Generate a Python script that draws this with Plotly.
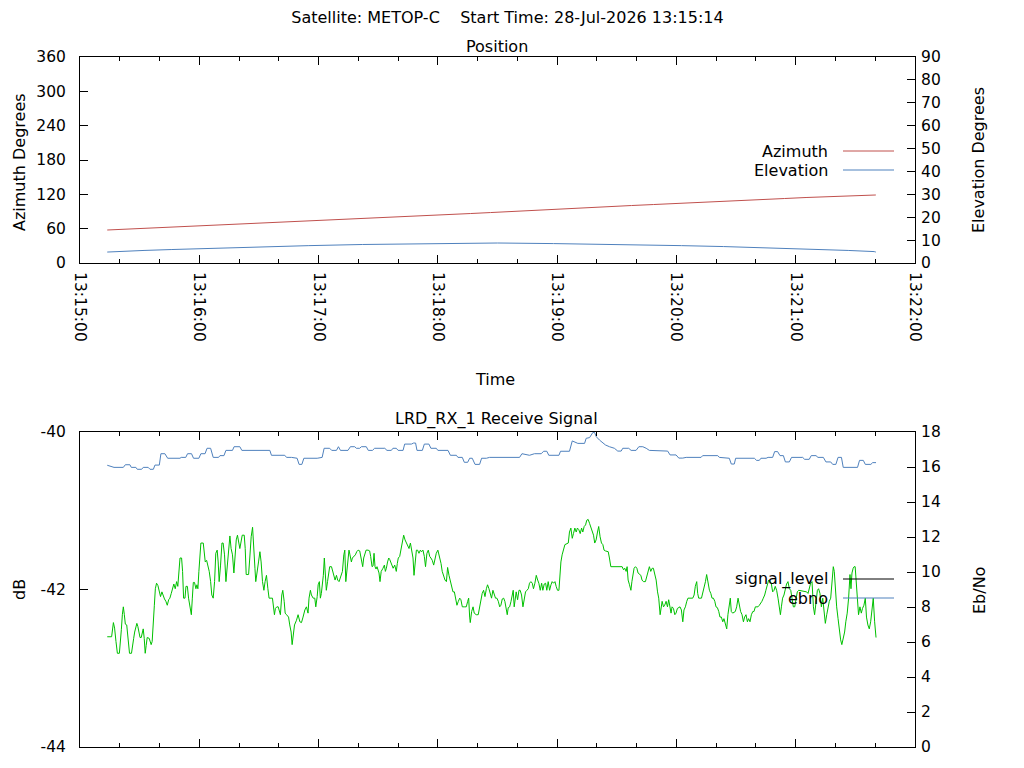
import pandas as pd
import plotly.graph_objects as go

# pass data, time given as seconds after 13:15:00
start = pd.Timestamp("2026-07-28 13:15:00")

az_sec = [13.7, 18.9, 31.2, 44.2, 55.3, 67.3, 78.9, 89.9, 102.0, 112.1, 123.1, 134.2, 144.2,
          155.3, 165.3, 175.4, 185.4, 196.5, 206.5, 216.1, 226.1, 236.2, 246.2, 256.3, 266.3,
          277.4, 288.4, 298.5, 309.5, 320.6, 331.7, 343.7, 354.3, 365.2, 378.6, 390.6, 400.3]
azimuth = [57.7, 58.5, 60.3, 62.0, 63.8, 65.5, 67.3, 69.0, 70.7, 72.5, 74.2, 76.0, 77.7,
           79.5, 81.2, 83.0, 84.7, 86.5, 88.2, 90.0, 91.7, 93.5, 95.2, 97.0, 98.7,
           100.5, 102.2, 104.0, 105.7, 107.5, 109.2, 111.0, 112.7, 114.5, 116.2, 118.0, 118.9]

el_sec = [13.7, 17.9, 32.2, 46.2, 61.3, 77.9, 96.0, 115.1, 142.2, 183.4, 210.0, 238.2,
          278.4, 302.5, 323.6, 340.7, 356.3, 371.4, 386.4, 399.5, 400.3]
elevation = [4.8, 5.0, 5.5, 5.9, 6.3, 6.8, 7.2, 7.6, 8.1, 8.5, 8.75, 8.5,
             8.1, 7.6, 7.2, 6.8, 6.3, 5.9, 5.5, 5.0, 4.8]

sig_sec = [
    13.7, 15.9, 16.8, 17.4, 18.1, 18.8, 19.8, 20.3, 20.8, 21.3, 21.8, 22.3, 22.8, 23.5, 23.9,
    24.4, 24.9, 25.9, 26.5, 27.0, 27.5, 28.1, 28.6, 29.1, 29.7, 30.2, 30.8, 31.3, 31.8, 32.3,
    32.8, 33.3, 33.8, 34.8, 35.3, 35.8, 36.3, 36.9, 37.4, 37.9, 38.5, 39.2, 39.9, 40.5, 41.2,
    41.9, 42.5, 43.2, 43.9, 44.6, 45.2, 45.9, 46.6, 47.2, 47.9, 48.6, 49.2, 49.8, 50.3, 51.1,
    51.6, 52.1, 52.8, 53.3, 54.0, 54.6, 55.3, 56.0, 56.5, 57.0, 57.6, 58.3, 58.8, 59.3, 59.8,
    60.3, 60.8, 62.0, 62.5, 63.0, 63.7, 64.3, 65.0, 65.7, 66.3, 67.0, 67.7, 68.3, 69.0, 69.5,
    70.0, 70.7, 71.4, 72.0, 72.7, 73.4, 74.0, 74.7, 75.4, 76.0, 76.7, 77.4, 77.9, 78.6, 79.2,
    79.7, 80.4, 80.9, 81.6, 82.6, 83.1, 83.6, 84.8, 85.4, 86.1, 86.8, 87.3, 88.0, 88.4, 89.1,
    89.8, 90.5, 91.1, 91.8, 92.5, 93.1, 93.8, 94.5, 95.1, 96.8, 97.3, 97.8, 98.3, 99.0, 99.7,
    100.3, 100.8, 101.5, 102.0, 102.7, 103.2, 103.9, 104.9, 105.5, 106.2, 106.7, 107.2,
    107.9, 108.9, 109.7, 110.6, 111.4, 112.2, 113.1, 113.9, 114.7, 115.2, 115.9, 116.4, 117.3,
    118.1, 118.6, 119.3, 119.8, 120.4, 120.9, 121.4, 121.9, 122.4, 122.9, 123.4, 123.9, 124.5,
    125.1, 125.6, 126.5, 127.0, 127.6, 128.3, 129.0, 129.6, 130.3, 131.0, 131.5, 132.0, 132.7,
    133.2, 133.7, 134.3, 134.8, 135.3, 135.8, 136.5, 137.0, 137.9, 138.5, 139.2, 139.9, 140.7,
    141.2, 141.7, 142.2, 142.7, 143.2, 143.9, 144.9, 145.7, 146.2, 146.9, 147.4, 147.9, 148.4,
    148.9, 149.4, 149.9, 150.4, 150.9, 151.5, 152.4, 153.1, 153.6, 154.1, 154.7, 155.3, 155.8,
    156.6, 157.5, 158.3, 159.1, 159.6, 160.1, 160.8, 161.5, 162.1, 162.8, 163.5, 164.2, 164.8,
    165.5, 166.2, 166.8, 167.5, 168.0, 168.5, 169.2, 169.8, 170.5, 171.2, 171.8, 172.5, 173.2,
    173.8, 174.5, 175.2, 175.9, 176.5, 177.2, 177.9, 178.6, 179.2, 180.0, 180.9, 181.6, 182.2,
    182.9, 183.6, 184.3, 184.9, 185.6, 186.3, 186.9, 187.6, 188.3, 188.9, 189.6, 190.3, 191.0,
    191.6, 192.3, 193.3, 194.3, 195.0, 195.5, 196.0, 196.3, 197.0, 197.7, 198.3, 199.3, 200.3,
    201.0, 201.7, 202.3, 203.0, 203.7, 204.4, 205.0, 205.7,
    206.4, 207.0, 207.7, 208.4, 209.0, 209.7, 210.4, 211.1, 211.7, 212.4, 213.1, 213.7, 214.4,
    214.9, 215.4, 216.1, 216.8, 217.4, 217.9, 218.4, 218.9, 219.4, 220.1, 220.8, 221.4, 222.1,
    222.8, 223.5, 224.1, 224.8, 225.5, 226.1, 226.8, 227.5, 228.1, 228.8, 229.5, 230.2, 230.8,
    231.5, 232.2, 232.8, 233.5, 234.2, 234.8, 235.5, 236.2, 236.9, 237.5, 238.2, 238.9, 239.5,
    240.2, 240.9, 241.4, 241.9, 242.5, 243.2, 243.9, 245.6, 246.2, 246.9, 247.6, 248.2, 248.9,
    249.6, 250.2, 250.9, 251.6, 252.3, 252.9, 253.6, 254.3, 254.9, 255.6, 256.3, 256.9, 257.6,
    258.3, 258.9, 259.6, 260.3, 260.9, 261.6, 262.3, 263.0, 263.6, 264.3, 265.7, 266.3, 267.0,
    272.7, 273.4, 274.0, 274.7, 275.2, 275.7, 276.4, 277.1, 277.6, 278.1, 278.7, 279.4, 280.1,
    280.7, 282.1, 282.7, 283.4, 284.4, 285.1, 285.8, 286.4, 287.1, 287.8, 288.4, 289.1, 289.8,
    290.5, 291.1, 291.8, 292.3, 292.8, 293.5, 294.1, 294.8, 295.5, 296.1, 296.6, 297.3, 297.8,
    298.5, 299.2, 299.8, 300.5, 301.2,
    301.8, 302.5, 303.2, 303.8, 304.5, 305.2, 305.8, 308.2, 308.9, 309.5, 310.2, 310.7, 311.2,
    312.6, 313.2, 313.9, 314.6, 315.2, 315.9, 316.6, 317.3, 317.9, 318.6, 319.3, 319.9, 320.6,
    321.3, 321.9, 322.6, 323.3, 323.9, 324.6, 325.3, 325.9, 326.6, 327.1, 327.6, 328.3, 329.6,
    330.3, 331.0, 331.7, 332.3, 333.0, 333.7, 334.3, 335.0, 335.7, 336.3, 337.0, 337.7, 338.4,
    339.0, 339.7, 341.0, 341.7, 342.4, 343.0, 343.7, 344.4, 345.0, 345.7, 346.4, 347.1, 347.7,
    348.4, 349.1, 349.7, 350.4, 351.1, 351.8, 352.3, 352.8, 353.4, 354.1, 354.8, 355.4, 356.1,
    356.8, 357.5, 358.1, 358.8, 359.5, 360.1, 360.8, 361.5, 365.5, 366.2, 366.9, 367.5, 368.2,
    368.9, 369.5, 370.2, 370.9, 371.5, 372.2, 372.9, 373.6, 374.2, 374.9, 375.6, 376.2, 376.9,
    377.6, 378.2, 378.9, 379.4, 379.9, 380.6, 381.3, 381.9, 382.6, 383.2, 383.9, 384.6, 385.2,
    385.9, 386.6, 387.3, 387.8, 388.3, 388.9, 389.4, 389.9, 390.4, 391.0, 391.6, 392.3, 393.0,
    393.6, 394.3, 395.0, 395.6, 396.3, 397.0, 397.7, 398.3, 399.0, 399.7, 400.4]
signal_level = [
    -42.60, -42.60, -42.42, -42.49, -42.66, -42.81, -42.81, -42.70, -42.51, -42.32, -42.22, -42.32, -42.44, -42.45, -42.58,
    -42.68, -42.81, -42.81, -42.73, -42.62, -42.54, -42.47, -42.43, -42.47, -42.56, -42.61, -42.61, -42.54, -42.50, -42.62,
    -42.81, -42.71, -42.61, -42.62, -42.68, -42.70, -42.66, -42.47, -42.20, -41.99, -41.92, -41.95, -42.03, -42.09, -42.03,
    -42.09, -42.12, -42.15, -42.20, -42.13, -42.11, -42.05, -41.99, -41.93, -41.99, -41.90, -41.96, -41.71, -41.60, -41.60,
    -41.77, -42.11, -42.11, -41.96, -41.96, -42.11, -42.24, -42.32, -42.11, -41.91, -41.91, -41.99, -41.94, -41.99, -41.77,
    -41.52, -41.41, -41.41, -41.50, -41.65, -41.63, -41.69, -41.77, -41.90, -42.07, -42.11, -41.90, -41.54, -41.50, -41.65,
    -41.90, -41.69, -41.41, -41.41, -41.56, -41.90, -41.73, -41.50, -41.32, -41.48, -41.56, -41.79, -41.56, -41.37, -41.31,
    -41.37, -41.48, -41.41, -41.31, -41.31, -41.48, -41.81, -41.81, -41.60, -41.33, -41.21, -41.52, -41.73, -41.90, -41.73,
    -41.65, -41.52, -41.65, -41.90, -42.01, -41.90, -41.82, -41.99, -42.11, -42.11, -42.22, -42.32, -42.24, -42.22, -42.22,
    -42.27, -42.32, -42.07, -42.01, -42.15, -42.30, -42.32, -42.35, -42.45, -42.54, -42.70, -42.56,
    -42.45, -42.39, -42.32, -42.41, -42.42, -42.35, -42.26, -42.22, -42.30, -42.11, -42.01, -42.07, -42.11,
    -42.11, -42.22, -42.09, -41.94, -41.90, -42.11, -42.05, -41.94, -41.82, -41.60, -41.82, -42.01, -41.90,
    -41.77, -41.71, -41.71, -41.77, -41.84, -41.88, -41.82, -41.88, -41.90, -41.84, -41.82, -41.77, -41.56,
    -41.50, -41.90, -41.77, -41.69, -41.50, -41.56, -41.65, -41.60, -41.58, -41.56, -41.52, -41.50, -41.51,
    -41.58, -41.69, -41.71, -41.60, -41.56, -41.50, -41.50, -41.51, -41.58, -41.71, -41.70, -41.54, -41.71,
    -41.74, -41.71, -41.77, -41.79, -41.90, -41.77, -41.73, -41.69, -41.77, -41.73, -41.65, -41.60, -41.62,
    -41.67, -41.73, -41.69, -41.77, -41.67, -41.60, -41.58, -41.48, -41.41, -41.31, -41.37, -41.41, -41.43,
    -41.48, -41.41, -41.50, -41.60, -41.82, -41.63, -41.50, -41.50, -41.54, -41.50, -41.52, -41.50, -41.58,
    -41.71, -41.54, -41.50, -41.58, -41.60, -41.63, -41.69, -41.60, -41.54, -41.50, -41.58, -41.67, -41.77,
    -41.82, -41.88, -41.90, -41.72, -41.82, -41.90, -41.99, -42.03, -42.03, -42.11, -42.20, -42.15, -42.11,
    -42.13, -42.22, -42.22, -42.22, -42.15, -42.11, -42.35, -42.42, -42.28, -42.22, -42.30, -42.32, -42.32,
    -42.22, -42.11, -42.05, -42.01, -42.09, -41.99, -41.94, -41.99,
    -42.05, -42.11, -42.01, -42.07, -42.11, -42.11, -42.15, -42.22, -42.20, -42.12, -42.11, -42.15, -42.24,
    -42.32, -42.23, -42.22, -42.15, -42.07, -42.01, -42.22, -42.11, -42.03, -42.13, -42.01, -42.01, -42.07,
    -42.22, -42.11, -42.03, -42.01, -41.99, -41.92, -41.90, -41.92, -41.99, -41.92, -41.82, -41.88, -41.92,
    -42.01, -41.92, -42.01, -41.93, -41.92, -42.01, -41.90, -42.01, -41.94, -41.90, -41.92, -41.90, -41.96,
    -42.01, -42.01, -41.77, -41.65, -41.56, -41.48, -41.43, -41.41, -41.27, -41.22, -41.35, -41.29, -41.22,
    -41.27, -41.22, -41.24, -41.29, -41.22, -41.27, -41.20, -41.18, -41.12, -41.11, -41.16, -41.20, -41.27,
    -41.31, -41.41, -41.37, -41.27, -41.20, -41.33, -41.41, -41.43, -41.50, -41.51, -41.52, -41.60, -41.71,
    -41.71, -41.75, -41.73, -41.77, -41.71, -41.88, -41.94, -42.01, -41.90, -41.79, -41.73, -41.71, -41.73,
    -41.79, -41.82, -41.88, -41.90, -41.90, -41.84, -41.77, -41.71, -41.77, -41.73, -41.73, -41.82, -41.88,
    -42.03, -42.11, -42.32, -42.22, -42.15, -42.22, -42.20, -42.15, -42.22, -42.13, -42.22, -42.30, -42.22,
    -42.24, -42.32, -42.30, -42.24, -42.23,
    -42.22, -42.26, -42.41, -42.26, -42.22, -42.15, -42.11, -42.11, -42.07, -41.96, -41.90, -42.05, -42.11,
    -42.11, -42.05, -41.99, -41.90, -41.81, -41.92, -42.01, -42.05, -42.11, -42.11, -42.15, -42.22, -42.23,
    -42.28, -42.35, -42.35, -42.41, -42.37, -42.45, -42.50, -42.32, -42.22, -42.11, -42.28, -42.30, -42.28,
    -42.22, -42.11, -42.20, -42.28, -42.32, -42.41, -42.35, -42.32, -42.41, -42.37, -42.41, -42.32, -42.28,
    -42.28, -42.22, -42.22, -42.20, -42.18, -42.15, -42.11, -42.07, -42.01, -41.94, -41.88, -41.90, -41.92,
    -42.03, -42.01, -41.96, -42.01, -42.11, -42.24, -42.32, -42.22, -42.11, -42.07, -41.99, -41.93, -41.90,
    -41.99, -42.01, -42.09, -42.22, -42.22, -42.11, -42.03, -42.01, -42.03, -42.05, -41.99, -41.92, -41.90,
    -42.22, -42.32, -42.15, -42.01, -41.99, -42.05, -42.22, -42.11, -42.26, -42.43, -42.32, -42.22, -42.15,
    -42.11, -41.90, -41.71, -41.77, -42.03, -42.22, -42.37, -42.54, -42.64, -42.70, -42.62, -42.54, -42.41,
    -42.30, -42.11, -41.81, -41.99, -41.79, -41.73, -41.71, -41.71, -41.92, -42.22, -42.32, -42.22, -42.30,
    -42.24, -42.20, -42.11, -42.35, -42.45, -42.50, -42.41, -42.22, -42.11, -42.41, -42.61]

ebno_sec = [
    13.7, 17.1, 21.8, 22.8, 25.1, 25.8, 28.1, 28.8, 31.0, 31.8, 34.3, 35.2, 36.9, 37.7, 39.9,
    40.7, 42.7, 44.1, 50.3, 50.9, 53.2, 54.1, 56.1, 57.1, 59.8, 60.8, 62.9, 63.9, 65.7, 67.0,
    69.7, 70.4, 72.4, 73.4, 76.7, 77.5, 80.4, 81.4, 95.5, 96.3, 103.0, 103.9, 106.4,
    109.2, 110.2, 111.6, 112.6, 119.3, 121.8, 122.8, 125.6, 126.6, 129.0, 130.0, 131.0, 134.8,
    136.0, 138.2, 139.0, 140.7, 141.5, 144.0, 145.0, 147.1, 148.2, 153.3, 154.4, 156.6, 157.4,
    159.1, 160.0, 162.5, 163.3, 166.7, 167.8, 168.8, 169.5, 172.2, 173.2, 175.5, 176.5, 179.2,
    180.0, 185.1, 186.3, 189.3, 190.1, 192.3, 193.3, 195.0, 196.0, 197.3, 198.7, 201.0, 202.0,
    204.4, 206.0, 221.1, 222.3, 224.5, 226.1, 228.6, 232.0, 233.2, 234.8, 235.8, 240.9, 241.7,
    246.2, 247.6, 250.4, 253.8, 254.6, 256.3, 258.0, 258.8, 259.7, 261.3, 263.3, 264.3, 266.3,
    268.8, 270.5, 272.2, 273.0, 276.0, 277.2, 279.7, 281.1, 283.1, 284.8, 286.4, 295.6, 296.8,
    299.8, 301.2, 303.2, 304.9, 312.4, 313.2, 320.8, 321.6, 326.6, 327.6, 329.1, 329.8, 339.2,
    340.3, 341.7, 342.5, 345.1, 346.1, 348.4, 349.4, 350.9, 352.1, 353.8, 354.8, 356.8, 357.9,
    363.5, 364.5, 366.8, 367.8, 370.2, 371.2, 373.9, 375.2, 377.6, 378.6, 380.2, 381.3, 383.0,
    383.9, 391.1, 392.1, 394.0, 395.0, 397.8, 398.7, 400.4]
ebno = [
    16.10, 15.98, 15.98, 16.13, 16.13, 15.98, 15.98, 15.87, 15.87, 15.98, 15.98, 15.87, 15.87, 16.11, 16.11,
    16.76, 16.76, 16.50, 16.50, 16.55, 16.55, 16.76, 16.76, 16.50, 16.50, 16.76, 16.76, 17.07, 17.07, 16.55,
    16.55, 16.65, 16.65, 16.95, 16.95, 17.16, 17.16, 16.95, 16.95, 16.67, 16.67, 16.55, 16.55,
    16.50, 16.15, 16.15, 16.50, 16.50, 16.55, 17.07, 17.07, 16.95, 16.95, 17.16, 16.95, 16.95,
    17.16, 17.16, 17.07, 17.07, 17.16, 17.16, 16.95, 16.95, 17.07, 17.07, 16.95, 16.95, 17.07,
    17.07, 16.95, 16.95, 17.31, 17.31, 17.37, 17.37, 16.95, 16.95, 17.31, 17.31, 17.07, 17.07,
    16.95, 16.95, 16.67, 16.67, 16.55, 16.55, 16.27, 16.27, 16.50, 16.50, 16.15, 16.15, 16.50,
    16.50, 16.55, 16.55, 16.76, 16.72, 16.67, 16.76, 16.76, 16.90, 16.90, 16.67, 16.67, 16.90,
    16.90, 17.49, 17.35, 17.35, 17.64, 17.68, 17.98, 17.98, 17.73, 17.54, 17.35, 17.26, 17.16,
    17.07, 16.91, 16.91, 17.07, 17.07, 16.95, 16.95, 17.16, 17.16, 17.07, 16.95, 16.91, 16.69,
    16.69, 16.51, 16.51, 16.55, 16.55, 16.65, 16.65, 16.55, 16.50, 16.17, 16.17, 16.50, 16.50,
    16.38, 16.38, 16.50, 16.50, 16.55, 16.55, 16.88, 16.88, 16.65, 16.65, 16.29, 16.29, 16.55,
    16.55, 16.44, 16.44, 16.65, 16.65, 16.55, 16.55, 16.29, 16.29, 16.15, 16.15, 16.55, 16.55,
    15.98, 15.98, 16.38, 16.38, 16.15, 16.15, 16.25, 16.25]

db_ticks = [-44, -42, -40]
db_labels = ["-44", "-42", "-40"]

RED = "#c0504d"
BLUE = "#4f81bd"
GREEN = "#00c000"
TICK_FONT = dict(family="DejaVu Sans", size=15.5, color="black")
FONT = dict(family="DejaVu Sans", size=16, color="black")

# the page puts the figure 8 px in from the top left corner
OFFSET = 8


def to_time(secs):
    return start + pd.to_timedelta(secs, unit="s")


fig = go.Figure()
fig.add_trace(go.Scatter(x=to_time(az_sec), y=azimuth, mode="lines", name="Azimuth",
                         line=dict(color=RED, width=1), xaxis="x", yaxis="y"))
fig.add_trace(go.Scatter(x=to_time(el_sec), y=elevation, mode="lines", name="Elevation",
                         line=dict(color=BLUE, width=1), xaxis="x", yaxis="y2"))
fig.add_trace(go.Scatter(x=to_time(sig_sec), y=signal_level, mode="lines", name="signal_level",
                         line=dict(color=GREEN, width=1), xaxis="x2", yaxis="y3"))
fig.add_trace(go.Scatter(x=to_time(ebno_sec), y=ebno, mode="lines", name="ebno",
                         line=dict(color=BLUE, width=1), xaxis="x2", yaxis="y4"))

t_range = ["2026-07-28 13:15:00", "2026-07-28 13:22:00"]
time_axis = dict(type="date", range=t_range, tick0=t_range[0], dtick=60000,
                 tickformat="%H:%M:%S", tickangle=90, ticks="inside", ticklen=8,
                 tickcolor="black", showline=True, linecolor="black", linewidth=1,
                 mirror="ticks", showgrid=False, zeroline=False, tickfont=TICK_FONT,
                 ticklabelstandoff=5,
                 minor=dict(dtick=20000, tick0=t_range[0], ticks="inside", ticklen=4,
                            tickcolor="black", showgrid=False))
val_axis = dict(ticks="inside", ticklen=8, tickcolor="black", showline=True,
                linecolor="black", linewidth=1, showgrid=False, zeroline=False,
                tickfont=TICK_FONT)
left_axis = dict(val_axis, ticklabelstandoff=10)
right_axis = dict(val_axis, ticklabelstandoff=2)

top = [0.7014, 1.0]
bot = [0.0, 0.4565]

fig.update_layout(
    width=1024 - OFFSET, height=768 - OFFSET,
    margin=dict(l=80 - OFFSET, r=109, t=57 - OFFSET, b=21),
    paper_bgcolor="white", plot_bgcolor="white",
    showlegend=False,
    font=FONT,
    title=dict(text="Satellite: METOP-C    Start Time: 28-Jul-2026 13:15:14",
               x=(507.5 - OFFSET) / (1024 - OFFSET), xref="container",
               y=1 - (17 - OFFSET) / (768 - OFFSET), yref="container",
               xanchor="center", yanchor="middle", font=FONT),
    xaxis=dict(time_axis, domain=[0, 1], anchor="y"),
    yaxis=dict(left_axis, domain=top, range=[0, 360], dtick=60, anchor="x"),
    yaxis2=dict(right_axis, range=[0, 90], dtick=10, overlaying="y", side="right", anchor="x"),
    xaxis2=dict(time_axis, domain=[0, 1], anchor="y3", showticklabels=False),
    yaxis3=dict(left_axis, domain=bot, range=[-44, -40], tickvals=db_ticks,
                ticktext=db_labels, anchor="x2"),
    yaxis4=dict(right_axis, range=[0, 18], dtick=2, overlaying="y3", side="right", anchor="x2"),
)


def ypos(px):
    # screen row -> paper fraction of the 690 px tall plotting area
    return (747 - px) / 690


def xpos(px):
    return (px - 80) / 835


labels = [
    ("Position", 497, 46, 0),
    ("Time", 495, 379, 0),
    ("LRD_RX_1 Receive Signal", 496, 419, 0),
    ("Azimuth Degrees", 19, 162, -90),
    ("Elevation Degrees", 979, 160, -90),
    ("dB", 19, 590, -90),
    ("Eb/No", 979, 591, -90),
]
for text, px, py, ang in labels:
    fig.add_annotation(text=text, x=xpos(px), y=ypos(py), xref="paper", yref="paper",
                       showarrow=False, textangle=ang, xanchor="center", yanchor="middle",
                       font=FONT)

# gnuplot style key: text, then a line sample to its right
keys = [("Azimuth", RED, 151), ("Elevation", BLUE, 170),
        ("signal_level", "black", 579), ("ebno", BLUE, 598)]
for text, color, py in keys:
    fig.add_annotation(text=text, x=xpos(830), y=ypos(py), xref="paper", yref="paper",
                       showarrow=False, xanchor="right", yanchor="middle", font=FONT)
    fig.add_shape(type="line", xref="paper", yref="paper", x0=xpos(843), x1=xpos(894),
                  y0=ypos(py), y1=ypos(py), line=dict(color=color, width=1))

fig.write_html("out.html")
